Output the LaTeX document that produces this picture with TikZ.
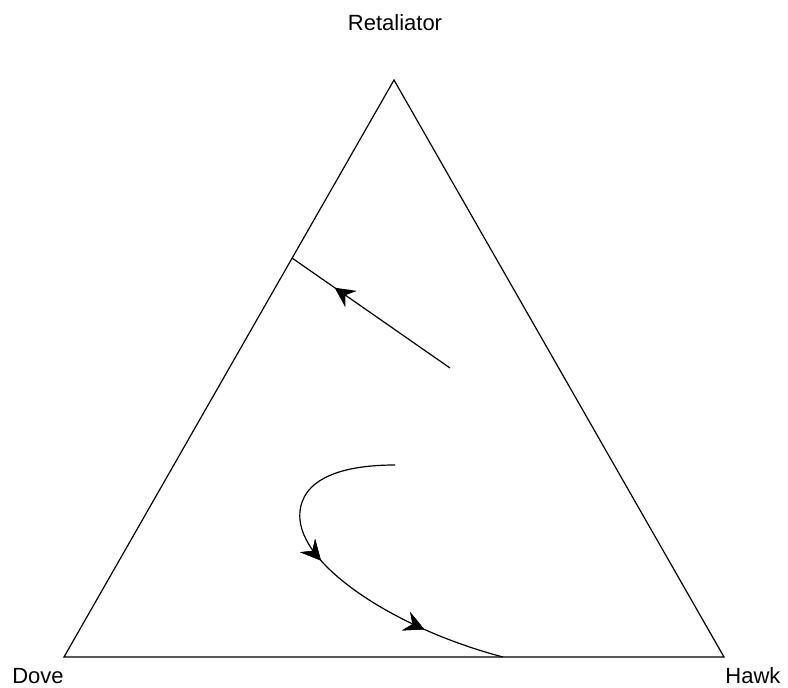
\documentclass[tikz,border=0pt]{standalone}
\usepackage{fontspec}
\setmainfont{Liberation Sans}
\usetikzlibrary{arrows.meta, decorations.markings}

\begin{document}
\begin{tikzpicture}[
    x=1pt, y=-1pt,
    side/.style={line width=1.2pt, line join=miter},
    orbit/.style={line width=1.2pt},
    label/.style={font=\fontsize{22}{26}\selectfont, inner sep=0pt},
    midarrow/.style={postaction={decorate}, decoration={markings,
        mark=at position #1 with {\arrow{Stealth[length=20pt, width=20pt, inset=7pt]}}}}
]
    \useasboundingbox (0,0) rectangle (788,688);

    % vertices of the simplex
    \coordinate (ret) at (394,80);
    \coordinate (dove) at (64,657);
    \coordinate (hawk) at (724,657);
    \draw[side] (ret) -- (dove) -- (hawk) -- cycle;

    \node[label] (retlab) at (395,23) {Retaliator};
    \node[label] (dovelab) at (38,676) {Dove};
    \node[label] (hawklab) at (753,676) {Hawk};

    % straight trajectory to the Dove--Retaliator edge
    \coordinate (a0) at (450,368);
    \coordinate (a1) at (292,258);
    \draw[orbit, midarrow=0.73] (a0) -- (a1);

    % curved trajectory to the Dove--Hawk edge
    \coordinate (b0) at (395,465);
    \coordinate (b1) at (300,520);
    \coordinate (b2) at (503,657);
    \draw[orbit, midarrow=0.45, midarrow=0.78]
        (b0) .. controls (330,465) and (297,485) .. (b1)
             .. controls (305,570) and (400,630) .. (b2);
\end{tikzpicture}
\end{document}
